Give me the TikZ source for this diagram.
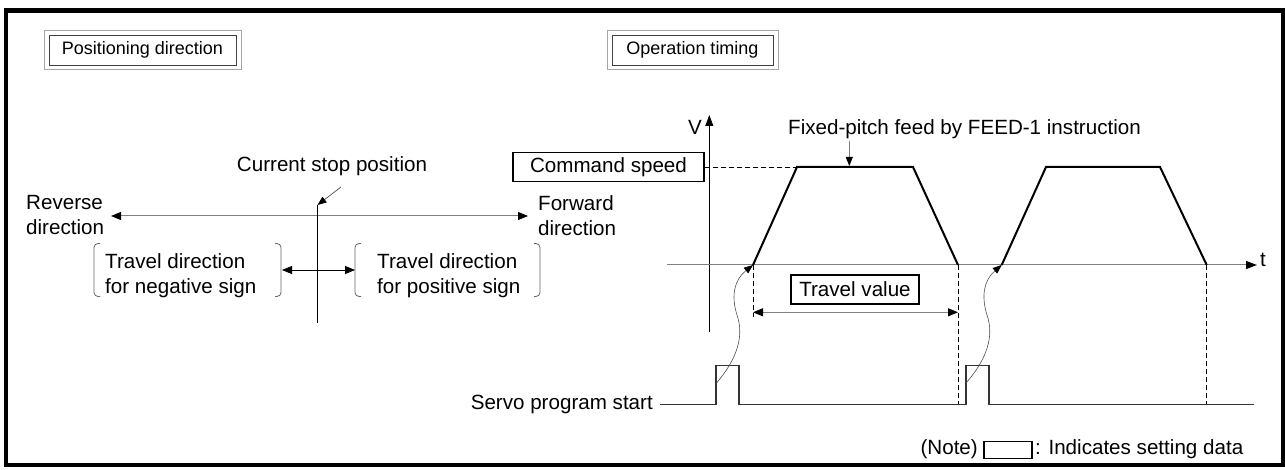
\documentclass[tikz,border=0pt]{standalone}
\usepackage{fontspec}
\setmainfont{Liberation Sans}
\usetikzlibrary{arrows.meta}
\begin{document}
\begin{tikzpicture}[x=1pt,y=-1pt,
  every node/.style={inner sep=0pt, font=\fontsize{20.6pt}{25pt}\selectfont},
  titlebox/.style={draw=black!75, line width=0.9pt, minimum height=30pt, font=\fontsize{18pt}{22pt}\selectfont},
  setbox/.style={draw=black, line width=1.4pt},
  grayline/.style={draw=black!50, line width=1pt},
  thinline/.style={draw=black!70, line width=0.7pt},
  dsh/.style={draw=black, line width=0.8pt, dash pattern=on 5pt off 3pt},
  heavy/.style={draw=black, line width=2pt, line join=miter},
  brk/.style={draw=black!60, line width=0.8pt, rounded corners=4pt},
  tipend/.style={-{Triangle[length=11pt,width=8pt,color=black,fill=black]}},
  tipboth/.style={{Triangle[length=10pt,width=8pt,color=black,fill=black]}-{Triangle[length=10pt,width=8pt,color=black,fill=black]}},
  tipsmall/.style={-{Triangle[length=9pt,width=7pt,color=black,fill=black]}}
]
\path[use as bounding box] (0,0) rectangle (1285,470);
% outer frame
\draw[line width=4.3pt] (6,10.5) rectangle (1283,465);

% ---------- titles ----------
\node[titlebox, minimum width=187pt] (t1) at (142.5,50) {Positioning direction};
\draw[black!35, line width=0.8pt] ([shift={(-4.5pt,4pt)}]t1.north west) rectangle ([shift={(4.5pt,-4pt)}]t1.south east);
\node[titlebox, minimum width=161pt] (t2) at (692.5,50) {Operation timing};
\draw[black!35, line width=0.8pt] ([shift={(-4.5pt,4pt)}]t2.north west) rectangle ([shift={(4.5pt,-4pt)}]t2.south east);

% ---------- positioning direction ----------
\node[anchor=base] (cur) at (332,171.5) {Current stop position};
\node[anchor=west, align=left] (rev) at (26,215.5) {Reverse\\direction};
\node[anchor=west, align=left] (fwd) at (538,216) {Forward\\direction};
\coordinate (axL) at (111,216);
\coordinate (axR) at (528,216);
\draw[grayline, tipboth] (axL) -- (axR);
\coordinate (stopTop) at (317.5,205);
\coordinate (stopBot) at (317.5,323);
\draw[line width=0.8pt] (stopTop) -- (stopBot);
\coordinate (curTail) at (341,187);
\draw[thinline, tipsmall] (curTail) -- (stopTop);

\node[anchor=west, align=left] (neg) at (105,275.5) {Travel direction\\for negative sign};
\node[anchor=west, align=left] (pos) at (377,275.5) {Travel direction\\for positive sign};
\draw[brk] (100,243.5) -- (94,243.5) -- (94,296.5) -- (100,296.5);
\draw[brk] (275,243.5) -- (281,243.5) -- (281,296.5) -- (275,296.5);
\draw[brk] (361,243.5) -- (355,243.5) -- (355,296.5) -- (361,296.5);
\draw[brk] (534,243.5) -- (540,243.5) -- (540,296.5) -- (534,296.5);
\coordinate (negR) at (282,270);
\coordinate (posL) at (355,270);
\draw[line width=0.8pt, tipboth] (negR) -- (posL);

% ---------- operation timing ----------
\node[setbox, minimum width=191pt, minimum height=29pt] (cs) at (608.5,167) {Command speed};
\coordinate (vBot) at (709.3,332);
\coordinate (vTop) at (709.3,115);
\draw[line width=0.9pt, tipend] (vBot) -- (vTop);
\node[anchor=base east] (V) at (702,135) {V};
\coordinate (tL) at (667,265);
\coordinate (tR) at (1257,265);
\draw[grayline, tipend] (tL) -- (tR);
\node[anchor=base west] (t) at (1260,266.5) {t};

\coordinate (a1) at (753,265);
\coordinate (a2) at (797,167);
\coordinate (a3) at (913,167);
\coordinate (a4) at (958,265);
\coordinate (b1) at (1001.7,265);
\coordinate (b2) at (1046,167);
\coordinate (b3) at (1160,167);
\coordinate (b4) at (1206.7,265);
\draw[heavy] (a1) -- (a2) -- (a3) -- (a4);
\draw[heavy] (b1) -- (b2) -- (b3) -- (b4);
\draw[dsh] (cs.east) -- (a2);

\node[anchor=base west] (fp) at (788,135) {Fixed-pitch feed by FEED-1 instruction};
\coordinate (fpTail) at (849.3,141.5);
\coordinate (fpTip) at (849.3,166);
\draw[grayline, tipsmall] (fpTail) -- (fpTip);

\node[setbox, minimum width=128pt, minimum height=29pt] (tv) at (855,289.5) {Travel value};
\coordinate (a1d) at (753,317);
\coordinate (a4d) at (958,405);
\coordinate (b4d) at (1206.7,405);
\draw[dsh] (a1) -- (a1d);
\draw[dsh] (a4) -- (a4d);
\draw[dsh] (b4) -- (b4d);
\coordinate (tvL) at (753,312.3);
\coordinate (tvR) at (958,312.3);
\draw[grayline, tipboth] (tvL) -- (tvR);

% start signal
\node[anchor=base east] (servo) at (653,409.5) {Servo program start};
\coordinate (p0) at (660,404.5);
\coordinate (r1) at (716,404.5);
\coordinate (r2) at (966,404.5);
\draw[line width=1.2pt, black!80] (p0) -- (r1) -- (716,365.5) -- (739,365.5) -- (739,404.5) -- (r2) -- (966,365.5) -- (989,365.5) -- (989,404.5) -- (1254,404.5);

\coordinate (c1) at (716.5,383);
\coordinate (c2) at (966,383);
\draw[thinline, line width=0.6pt, tipsmall] (c1) .. controls (738,358) and (744,335) .. (737,315) .. controls (731,296) and (734,280) .. (a1);
\draw[thinline, line width=0.6pt, tipsmall] (c2) .. controls (988,358) and (994,335) .. (987,315) .. controls (981,296) and (984,280) .. (b1);

% note
\node[anchor=base east] (note) at (978,454) {(Note)};
\node[draw=black, line width=1.2pt, minimum width=48pt, minimum height=17pt] (nbox) at (1008,450) {};
\node[anchor=base west] (ind) at (1035,454) {: Indicates setting data};
\end{tikzpicture}
\end{document}
